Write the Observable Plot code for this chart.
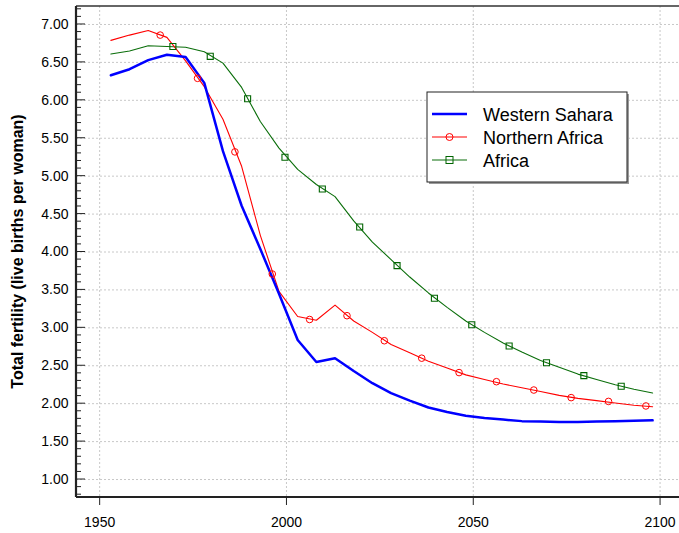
<!DOCTYPE html>
<html>
<head>
<meta charset="utf-8">
<script src="https://cdn.jsdelivr.net/npm/d3@7"></script>
<script src="https://cdn.jsdelivr.net/npm/@observablehq/plot@0.6"></script>
<style>
  html, body { margin: 0; padding: 0; background: #fff; }
  #chart { width: 679px; height: 533px; overflow: hidden; }
</style>
</head>
<body>
<div id="chart"></div>
<script>
// ---- data ----
const years = [1953, 1958, 1963, 1968, 1973, 1978, 1983, 1988, 1993, 1998,
               2003, 2008, 2013, 2018, 2023, 2028, 2033, 2038, 2043, 2048,
               2053, 2058, 2063, 2068, 2073, 2078, 2083, 2088, 2093, 2098];
const westernSahara = [6.33, 6.41, 6.53, 6.60, 6.57, 6.23, 5.33, 4.61, 4.04, 3.45,
                       2.84, 2.55, 2.60, 2.43, 2.27, 2.14, 2.04, 1.95, 1.89, 1.84,
                       1.81, 1.79, 1.77, 1.765, 1.76, 1.76, 1.765, 1.77, 1.775, 1.78];
const northernAfrica = [6.79, 6.86, 6.92, 6.83, 6.52, 6.18, 5.75, 5.13, 4.22, 3.48,
                        3.15, 3.10, 3.30, 3.09, 2.94, 2.78, 2.67, 2.56, 2.47, 2.38,
                        2.32, 2.26, 2.21, 2.16, 2.11, 2.07, 2.04, 2.01, 1.98, 1.96];
const africa = [6.61, 6.65, 6.72, 6.71, 6.70, 6.64, 6.49, 6.17, 5.72, 5.37,
                5.09, 4.89, 4.73, 4.41, 4.13, 3.90, 3.67, 3.46, 3.27, 3.09,
                2.94, 2.80, 2.68, 2.57, 2.48, 2.39, 2.32, 2.25, 2.19, 2.14];
// marker positions
const naMarkerYears = [1966.2, 1976.2, 1986.2, 1996.2, 2006.2, 2016.2, 2026.2,
                       2036.2, 2046.2, 2056.2, 2066.2, 2076.2, 2086.2, 2096.2];
const naMarkerValues = [6.86, 6.29, 5.32, 3.71, 3.11, 3.16, 2.83,
                        2.60, 2.41, 2.29, 2.18, 2.08, 2.03, 1.97];
const afMarkerYears = [1969.6, 1979.6, 1989.6, 1999.6, 2009.6, 2019.6, 2029.6,
                       2039.6, 2049.6, 2059.6, 2069.6, 2079.6, 2089.6];
const afMarkerValues = [6.71, 6.58, 6.02, 5.25, 4.83, 4.33, 3.82,
                        3.39, 3.04, 2.76, 2.54, 2.37, 2.23];
const seriesNames = ["Western Sahara", "Northern Africa", "Africa"];
const xTicks = [1950, 2000, 2050, 2100];
const yTicks = [1.0, 1.5, 2.0, 2.5, 3.0, 3.5, 4.0, 4.5, 5.0, 5.5, 6.0, 6.5, 7.0];
const yMinorTicks = d3.range(8, 73).map(v => v / 10);
const yLabel = "Total fertility (live births per woman)";

// ---- build tables ----
const colors = {"Western Sahara": "#0000ff", "Northern Africa": "#ff0000", "Africa": "#0a6e0a"};
const widths = {"Western Sahara": 2.5, "Northern Africa": 1.1, "Africa": 1.1};
const lineRows = [];
[westernSahara, northernAfrica, africa].forEach((vals, k) => {
  vals.forEach((v, i) => lineRows.push({series: seriesNames[k], year: years[i], value: v}));
});
const naMarkers = naMarkerYears.map((y, i) => ({year: y, value: naMarkerValues[i]}));
const afMarkers = afMarkerYears.map((y, i) => ({year: y, value: afMarkerValues[i]}));

const font = "'Liberation Sans', Arial, sans-serif";

const chart = Plot.plot({
  width: 679,
  height: 533,
  marginLeft: 76,
  marginRight: 0,
  marginTop: 6,
  marginBottom: 36,
  style: {fontFamily: font, fontSize: "14px", color: "#000", background: "#fff"},
  x: {domain: [1943.8, 2105.2], axis: null},
  y: {domain: [0.763, 7.237], axis: null},
  marks: [
    Plot.gridY(yTicks, {stroke: "#c8c8c8", strokeOpacity: 1, strokeDasharray: "2,2", strokeWidth: 1}),
    Plot.gridX(xTicks, {stroke: "#c8c8c8", strokeOpacity: 1, strokeDasharray: "2,2", strokeWidth: 1}),
    ...seriesNames.slice().reverse().map(name =>
      Plot.line(lineRows.filter(d => d.series === name), {
        x: "year", y: "value", stroke: colors[name], strokeWidth: widths[name]
      })),
    Plot.dot(naMarkers, {x: "year", y: "value", symbol: "circle", r: 3.3, stroke: colors["Northern Africa"], fill: "none", strokeWidth: 1}),
    Plot.dot(afMarkers, {x: "year", y: "value", symbol: "square", r: 3.4, stroke: "#006400", fill: "none", strokeWidth: 1.1}),
    Plot.axisY(yTicks, {anchor: "left", tickSize: 0, tickPadding: 8, tickFormat: d => d.toFixed(2), label: null, fontSize: 14}),
    Plot.axisX(xTicks, {anchor: "bottom", tickSize: 8, tickPadding: 12, tickFormat: d => String(d), label: null, fontSize: 14, stroke: "#222"})
  ]
});

document.getElementById("chart").appendChild(chart);

// ---- decorations drawn with the plot's scales ----
const svg = d3.select(chart);
const sy = v => chart.scale("y").apply(v);
const pLeft = 76, pTop = 6, pBottom = 533 - 36, pRight = 679;

// inward minor/major ticks on the y axis
const tg = svg.append("g").attr("stroke", "#222");
yMinorTicks.forEach(v => {
  const major = Math.abs(v * 2 - Math.round(v * 2)) < 1e-6;
  tg.append("line").attr("x1", pLeft).attr("x2", pLeft + (major ? 9 : 5))
    .attr("y1", sy(v)).attr("y2", sy(v)).attr("stroke-width", 1);
});

// frame lines
svg.append("line").attr("x1", pLeft).attr("x2", pRight).attr("y1", pTop).attr("y2", pTop)
  .attr("stroke", "#333").attr("stroke-width", 1.6);
svg.append("line").attr("x1", pLeft).attr("x2", pRight).attr("y1", pBottom).attr("y2", pBottom)
  .attr("stroke", "#222").attr("stroke-width", 2);
svg.append("line").attr("x1", pLeft).attr("x2", pLeft).attr("y1", pTop).attr("y2", pBottom)
  .attr("stroke", "#222").attr("stroke-width", 2.2);

// y axis title
svg.append("text")
  .attr("transform", `translate(23,${(pTop + pBottom) / 2}) rotate(-90)`)
  .attr("text-anchor", "middle")
  .attr("font-family", font)
  .attr("font-weight", "bold")
  .attr("font-size", "16px")
  .attr("fill", "#000")
  .text(yLabel);

// legend
const lg = svg.append("g").attr("text-anchor", "start");
const lx = 427, ly = 92, lw = 200, lh = 90;
lg.append("rect").attr("x", lx + 2).attr("y", ly + 2).attr("width", lw).attr("height", lh)
  .attr("fill", "#9a9a9a");
lg.append("rect").attr("x", lx).attr("y", ly).attr("width", lw).attr("height", lh)
  .attr("fill", "#fff").attr("stroke", "#222").attr("stroke-width", 1);
seriesNames.forEach((name, i) => {
  const yy = ly + 22 + i * 23;
  lg.append("line").attr("x1", lx + 5).attr("x2", lx + 40).attr("y1", yy).attr("y2", yy)
    .attr("stroke", colors[name]).attr("stroke-width", name === "Western Sahara" ? 2.5 : 1.1);
  if (name === "Northern Africa") {
    lg.append("circle").attr("cx", lx + 22.5).attr("cy", yy).attr("r", 3.5)
      .attr("fill", "none").attr("stroke", colors[name]);
  }
  if (name === "Africa") {
    lg.append("rect").attr("x", lx + 19).attr("y", yy - 3.5).attr("width", 7).attr("height", 7)
      .attr("fill", "none").attr("stroke", "#006400");
  }
  lg.append("text").attr("x", lx + 56).attr("y", yy + 6.5)
    .attr("text-anchor", "start")
    .attr("font-family", font).attr("font-size", "18px").attr("fill", "#000")
    .text(name);
});
</script>
</body>
</html>
